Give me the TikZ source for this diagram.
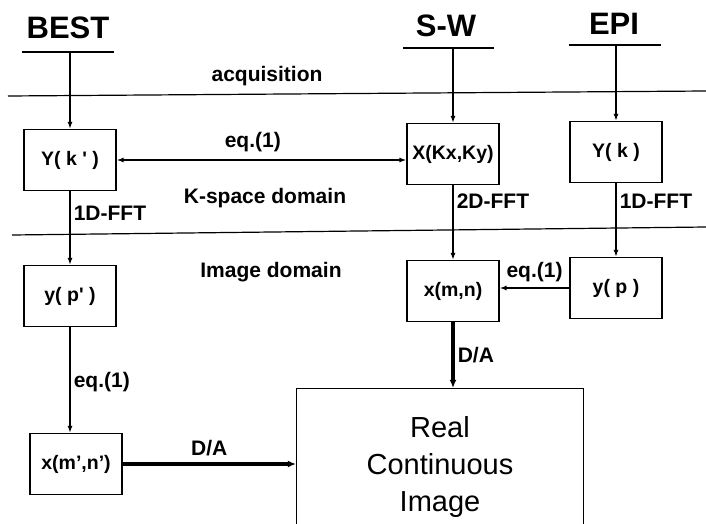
\documentclass[tikz,border=0pt]{standalone}
\usepackage{fontspec}
\setmainfont{Liberation Sans}
\usetikzlibrary{positioning,arrows.meta}

\begin{document}
\begin{tikzpicture}[x=1pt, y=-1pt,
  box/.style={draw, line width=1.2pt, minimum width=92pt, minimum height=61pt, inner sep=0pt, font=\bfseries\fontsize{19.5}{22}\selectfont},
  lab/.style={font=\bfseries\fontsize{21}{23}\selectfont, inner sep=3pt},
  title/.style={font=\bfseries\fontsize{31}{34}\selectfont},
  bar/.style={line width=1.2pt},
  arr/.style={-{Latex[length=7pt,width=5pt]}, line width=1.6pt},
  twoarr/.style={{Latex[length=7pt,width=5pt]}-{Latex[length=7pt,width=5pt]}, line width=1.6pt},
  bigarr/.style={-{Latex[length=8pt,width=7pt]}, line width=3.5pt}]
\useasboundingbox (0,0) rectangle (706,524);
% methods
\node[title] (best) at (68,28) {BEST};
\node[title] (sw) at (446,26) {S-W};
\node[title] (epi) at (614,24) {EPI};
\coordinate (bestbar) at (70,52);
\coordinate (swbar) at (453,48);
\coordinate (epibar) at (616,45);
\draw[bar] (22,52) -- (114,52);
\draw[bar] (403,48) -- (494,48);
\draw[bar] (569,45) -- (661,45);
% domains
\draw[bar] (8,96) -- (706,91);
\draw[bar] (12,235) -- (706,227);
\node[lab] (acq) at (267,76) {acquisition};
\node[lab] (kdom) at (265,198) {K-space domain};
\node[lab] (idom) at (271,272) {Image domain};
% boxes
\node[box] (kbest) at (70,160) {Y( k \textquotesingle\ )};
\node[box] (kxky) at (453,154) {X(Kx,Ky)};
\node[box] (kepi) at (616,152) {Y( k )};
\node[box] (pbest) at (70,296) {y( p\textquotesingle\ )};
\node[box] (mn) at (453,291) {x(m,n)};
\node[box] (pepi) at (616,288) {y( p )};
\node[box] (mnbest) at (76,464) {x(m',n')};
\node[draw, line width=1.2pt, minimum width=287pt, minimum height=157pt, align=center,
  font=\fontsize{29}{37}\selectfont] (real) at (440,467) {Real\\Continuous\\Image};
% connectors
\foreach \a/\b in {bestbar/kbest,swbar/kxky,epibar/kepi} \draw[arr] (\a) -- (\a |- \b.north);
\draw[twoarr] (kbest.east) -- node[lab, above=4pt, pos=0.47] {eq.(1)} (kbest.east -| kxky.west);
\draw[arr] (kbest) -- node[lab, right, pos=0.3] {1D-FFT} (kbest |- pbest.north);
\draw[arr] (kxky) -- node[lab, right, pos=0.22] {2D-FFT} (kxky |- mn.north);
\draw[arr] (kepi) -- node[lab, right, pos=0.24] {1D-FFT} (kepi |- pepi.north);
\draw[arr] (pepi.west) -- node[lab, above=2pt] {eq.(1)} (pepi.west -| mn.east);
\draw[arr] (pbest) -- node[lab, right, pos=0.52] {eq.(1)} (pbest |- mnbest.north);
\draw[bigarr] (mn) -- node[lab, right, pos=0.5] {D/A} (mn |- real.north);
\draw[bigarr] (mnbest.east) -- node[lab, above=3pt] {D/A} (mnbest.east -| real.west);
\end{tikzpicture}
\end{document}
